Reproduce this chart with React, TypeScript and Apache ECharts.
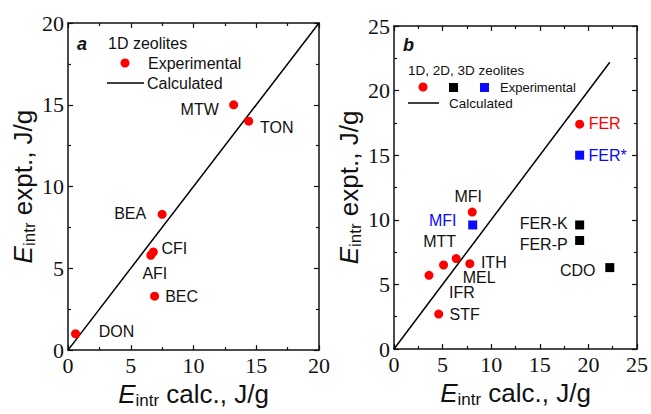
import React, { useEffect, useRef } from "react";
import * as echarts from "echarts";

// Panel a: 1D zeolites
const namesA = ["DON", "AFI", "CFI", "BEC", "BEA", "MTW", "TON"];
const calcA = [0.6, 6.6, 6.8, 6.9, 7.5, 13.2, 14.4];
const exptA = [1.0, 5.8, 6.0, 3.3, 8.3, 15.0, 14.0];
const lineA = [0, 20];

// Panel b: red circles
const namesBRed = ["IFR", "MTT", "MEL", "ITH", "MFI", "STF", "FER"];
const calcBRed = [3.6, 5.1, 6.4, 7.8, 8.05, 4.6, 19.1];
const exptBRed = [5.7, 6.5, 7.0, 6.6, 10.6, 2.7, 17.4];
// Panel b: black squares
const namesBBlack = ["FER-K", "FER-P", "CDO"];
const calcBBlack = [19.1, 19.1, 22.2];
const exptBBlack = [9.6, 8.4, 6.3];
// Panel b: blue squares
const namesBBlue = ["MFI", "FER*"];
const calcBBlue = [8.1, 19.1];
const exptBBlue = [9.6, 15.0];
const lineB = [0, 22.2];

const ticksA = [0, 5, 10, 15, 20];
const ticksB = [0, 5, 10, 15, 20, 25];

// label placement (style only)
const offA: Record<string, number[]> = {
  DON: [41, -2], AFI: [4, 18], CFI: [21, -3], BEC: [27, 0], BEA: [-32, -1], MTW: [-34, 5], TON: [28, 6],
};
const offBRed: Record<string, number[]> = {
  IFR: [33, 17], MTT: [-4, -24], MEL: [23, 19], ITH: [24, -1], MFI: [-4, -16], STF: [26, 0], FER: [25, -1],
};
const offBBlack: Record<string, number[]> = { "FER-K": [-36, -1], "FER-P": [-36, 4], CDO: [-32, 3] };
const offBBlue: Record<string, number[]> = { MFI: [-30, -4], "FER*": [28, 0] };

const RED = "#ff0000";
const BLUE = "#0a0aff";
const INK = "#111111";
const SANS = "Liberation Sans";
const SERIF = "Liberation Serif";

const items = (names: string[], xs: number[], ys: number[], offs: Record<string, number[]>, color: string) =>
  names.map((n, i) => ({
    value: [xs[i], ys[i]],
    name: n,
    label: { offset: offs[n] || [0, 0], color },
  }));

const rich = {
  e: { fontStyle: "italic" as const, fontSize: 26, fontFamily: SANS, color: INK, lineHeight: 30 },
  s: { fontSize: 17, fontFamily: SANS, color: INK, lineHeight: 14, verticalAlign: "bottom" as const },
  t: { fontSize: 26, fontFamily: SANS, color: INK, lineHeight: 30 },
};

const mainAxis = (grid: number, max: number, pos: string, name: string, gap: number, ticks: number[]) => ({
  type: "value",
  gridIndex: grid,
  position: pos,
  min: 0,
  max,
  interval: 5,
  name,
  nameLocation: "middle",
  nameGap: gap,
  nameTextStyle: { fontFamily: SANS, rich },
  axisLine: { show: true, onZero: false, lineStyle: { color: INK, width: 1.5 } },
  axisTick: { show: true, inside: true, length: 5, lineStyle: { color: INK, width: 1.2 } },
  minorTick: { show: true, splitNumber: 2, length: 3, lineStyle: { color: INK, width: 1.2 } },
  axisLabel: {
    show: true,
    margin: 4,
    fontSize: 22,
    fontFamily: SERIF,
    color: INK,
    formatter: (v: number) => (ticks.includes(v) ? String(v) : ""),
  },
  splitLine: { show: false },
});

const mirrorAxis = (grid: number, max: number, pos: string) => ({
  type: "value",
  gridIndex: grid,
  position: pos,
  min: 0,
  max,
  interval: 5,
  axisLine: { show: true, onZero: false, lineStyle: { color: INK, width: 1.5 } },
  axisTick: { show: true, inside: true, length: 5, lineStyle: { color: INK, width: 1.2 } },
  minorTick: { show: true, splitNumber: 2, length: 3, lineStyle: { color: INK, width: 1.2 } },
  axisLabel: { show: false },
  splitLine: { show: false },
});

const labelBase = { show: true, position: "inside", fontSize: 16, fontFamily: SANS, formatter: "{b}", opacity: 1 };

export default function App() {
  const ref = useRef<HTMLDivElement>(null);
  useEffect(() => {
    if (!ref.current) return;
    const chart = echarts.init(ref.current, null, { renderer: "svg" });
    const txt = (x: number, y: number, text: string, size: number, extra: any = {}) => ({
      type: "text",
      x,
      y,
      style: { text, fontSize: size, fontFamily: SANS, fill: INK, textVerticalAlign: "middle", ...extra },
    });
    chart.setOption({
      animation: false,
      backgroundColor: "#ffffff",
      textStyle: { fontFamily: SERIF },
      grid: [
        { left: 68, top: 23, width: 251, height: 329 },
        { left: 394, top: 26, width: 247, height: 323 },
      ],
      xAxis: [
        mainAxis(0, 20, "bottom", "{e|E}{s|intr}{t| calc., J/g}", 27, ticksA),
        mirrorAxis(0, 20, "top"),
        mainAxis(1, 25, "bottom", "{e|E}{s|intr}{t| calc., J/g}", 27, ticksB),
        mirrorAxis(1, 25, "top"),
      ],
      yAxis: [
        mainAxis(0, 20, "left", "{e|E}{s|intr}{t| expt., J/g}", 29, ticksA),
        mirrorAxis(0, 20, "right"),
        mainAxis(1, 25, "left", "{e|E}{s|intr}{t| expt., J/g}", 30, ticksB),
        mirrorAxis(1, 25, "right"),
      ],
      series: [
        {
          type: "line",
          xAxisIndex: 0,
          yAxisIndex: 0,
          data: lineA.map((v) => [v, v]),
          symbol: "none",
          lineStyle: { color: "#000", width: 1.5 },
          z: 2,
        },
        {
          type: "scatter",
          xAxisIndex: 0,
          yAxisIndex: 0,
          symbol: "circle",
          symbolSize: 9,
          itemStyle: { color: RED, opacity: 1 },
          label: { ...labelBase, color: INK },
          data: items(namesA, calcA, exptA, offA, INK),
          z: 3,
        },
        {
          type: "line",
          xAxisIndex: 2,
          yAxisIndex: 2,
          data: lineB.map((v) => [v, v]),
          symbol: "none",
          lineStyle: { color: "#000", width: 1.5 },
          z: 2,
        },
        {
          type: "scatter",
          xAxisIndex: 2,
          yAxisIndex: 2,
          symbol: "circle",
          symbolSize: 9,
          itemStyle: { color: RED, opacity: 1 },
          label: { ...labelBase, color: INK },
          data: items(namesBRed, calcBRed, exptBRed, offBRed, INK).map((d) =>
            d.name === "FER" ? { ...d, label: { ...d.label, color: RED } } : d
          ),
          z: 3,
        },
        {
          type: "scatter",
          xAxisIndex: 2,
          yAxisIndex: 2,
          symbol: "rect",
          symbolSize: 9,
          itemStyle: { color: "#000", opacity: 1 },
          label: { ...labelBase, color: INK },
          data: items(namesBBlack, calcBBlack, exptBBlack, offBBlack, INK),
          z: 3,
        },
        {
          type: "scatter",
          xAxisIndex: 2,
          yAxisIndex: 2,
          symbol: "rect",
          symbolSize: 9,
          itemStyle: { color: BLUE, opacity: 1 },
          label: { ...labelBase, color: BLUE },
          data: items(namesBBlue, calcBBlue, exptBBlue, offBBlue, BLUE),
          z: 3,
        },
      ],
      graphic: [
        txt(77, 44, "a", 18, { fontWeight: "bold", fontStyle: "italic" }),
        txt(108, 43, "1D zeolites", 16),
        { type: "circle", shape: { cx: 125, cy: 63, r: 4.5 }, style: { fill: RED } },
        txt(148, 63, "Experimental", 16),
        { type: "line", shape: { x1: 107, y1: 83, x2: 144, y2: 83 }, style: { stroke: "#000", lineWidth: 1.5 } },
        txt(147, 83, "Calculated", 16),
        txt(403, 45, "b", 18, { fontWeight: "bold", fontStyle: "italic" }),
        txt(408, 70, "1D, 2D, 3D zeolites", 13.5),
        { type: "circle", shape: { cx: 423, cy: 87, r: 4.5 }, style: { fill: RED } },
        { type: "rect", shape: { x: 449, y: 83, width: 9, height: 9 }, style: { fill: "#000" } },
        { type: "rect", shape: { x: 480, y: 83, width: 9, height: 9 }, style: { fill: BLUE } },
        txt(500, 87, "Experimental", 13),
        { type: "line", shape: { x1: 408, y1: 103, x2: 439, y2: 103 }, style: { stroke: "#000", lineWidth: 1.5 } },
        txt(449, 103, "Calculated", 13.5),
      ],
    });
    return () => chart.dispose();
  }, []);
  return (
    <div
      ref={ref}
      style={{ position: "absolute", left: 0, top: 0, width: 651, height: 414, background: "#fff" }}
    />
  );
}
